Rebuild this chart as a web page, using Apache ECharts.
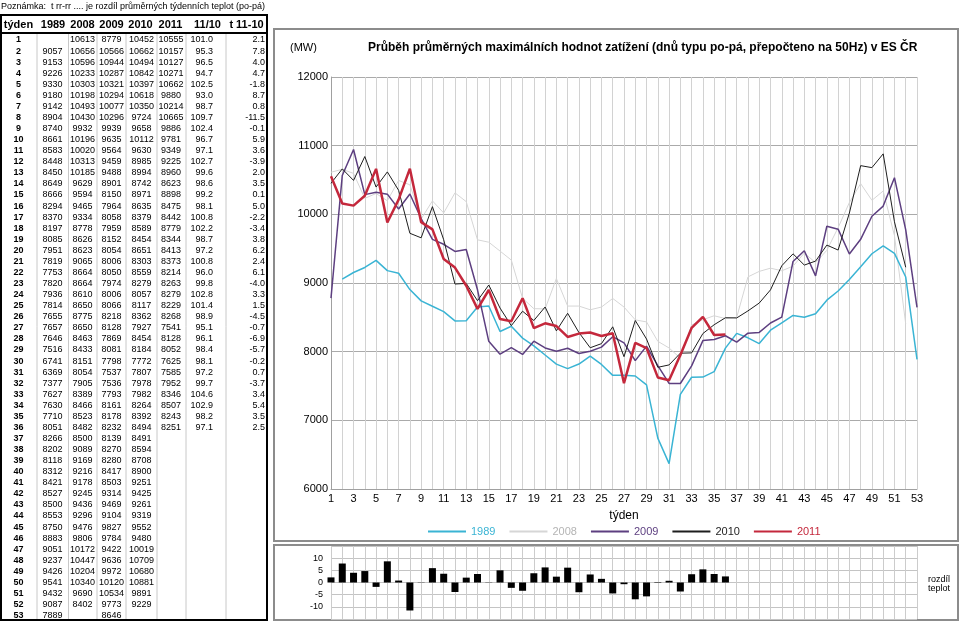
<!DOCTYPE html>
<html>
<head>
<meta charset="utf-8">
<script src="https://cdn.jsdelivr.net/npm/echarts@6/dist/echarts.min.js"></script>
<style>
html,body{margin:0;padding:0;background:#fff;}
#chart{width:960px;height:622px;}
</style>
</head>
<body>
<div id="chart"></div>
<script>
const weeks = ['1','2','3','4','5','6','7','8','9','10','11','12','13','14','15','16','17','18','19','20','21','22','23','24','25','26','27','28','29','30','31','32','33','34','35','36','37','38','39','40','41','42','43','44','45','46','47','48','49','50','51','52','53'];
const y1989 = [null,9057,9153,9226,9330,9180,9142,8904,8740,8661,8583,8448,8450,8649,8666,8294,8370,8197,8085,7951,7819,7753,7820,7936,7814,7655,7657,7646,7516,6741,6369,7377,7627,7630,7710,8051,8266,8202,8118,8312,8421,8527,8500,8553,8750,8883,9051,9237,9426,9541,9432,9087,7889];
const y2008 = [10613,10656,10596,10233,10303,10198,10493,10430,9932,10196,10020,10313,10185,9629,9594,9465,9334,8778,8626,8623,9065,8664,8664,8610,8650,8775,8650,8463,8433,8151,8054,7905,8389,8466,8523,8482,8500,9089,9169,9216,9178,9245,9436,9296,9476,9806,10172,10447,10204,10340,9690,8402,null];
const y2009 = [8779,10566,10944,10287,10321,10294,10077,10296,9939,9635,9564,9459,9488,8901,8150,7964,8058,7959,8152,8054,8006,8050,7974,8006,8066,8218,8128,7869,8081,7798,7537,7536,7793,8161,8178,8232,8139,8270,8280,8417,8503,9314,9469,9104,9827,9784,9422,9636,9972,10120,10534,9773,8646];
const y2010 = [10452,10662,10494,10842,10397,10618,10350,9724,9658,10112,9630,8985,8994,8742,8971,8635,8379,8589,8454,8651,8303,8559,8279,8057,8117,8362,7927,8454,8184,7772,7807,7978,7982,8264,8392,8494,8491,8594,8708,8900,9251,9425,9261,9319,9552,9480,10019,10709,10680,10881,9891,9229,null];
const y2011 = [10555,10157,10127,10271,10662,9880,10214,10665,9886,9781,9349,9225,8960,8623,8898,8475,8442,8779,8344,8413,8373,8214,8263,8279,8229,8268,7541,8128,8052,7625,7585,7952,8346,8507,8243,8251];
const ratio1110 = [101.0,95.3,96.5,94.7,102.5,93.0,98.7,109.7,102.4,96.7,97.1,102.7,99.6,98.6,99.2,98.1,100.8,102.2,98.7,97.2,100.8,96.0,99.8,102.8,101.4,98.9,95.1,96.1,98.4,98.1,97.2,99.7,104.6,102.9,98.2,97.1];
const tdiff = [2.1,7.8,4.0,4.7,-1.8,8.7,0.8,-11.5,-0.1,5.9,3.6,-3.9,2.0,3.5,0.1,5.0,-2.2,-3.4,3.8,6.2,2.4,6.1,-4.0,3.3,1.5,-4.5,-0.7,-6.9,-5.7,-0.2,0.7,-3.7,3.4,5.4,3.5,2.5];
const tableHeaders = ['týden','1989','2008','2009','2010','2011','11/10','t 11-10'];
const seriesNames = ['1989','2008','2009','2010','2011'];
const seriesColors = ['#3ab4d4','#d6d6d6','#5d3f80','#1e1e1e','#c4283c'];
const legendTextColors = ['#3ab4d4','#b4b4b4','#5d3f80','#1e1e1e','#c4283c'];
const seriesWidths = [1.5,1,1.5,1,2.5];

const FONT = 'Arial, "Liberation Sans", sans-serif';
const g = [];
function txt(x,y,s,font,align,color){
  g.push({type:'text',x:x,y:y,silent:true,style:{text:s,font:font,fill:color||'#000',textAlign:align,align:align,textVerticalAlign:'middle',verticalAlign:'middle'}});
}
function ln(x1,y1,x2,y2,c,w){
  g.push({type:'line',silent:true,shape:{x1:x1,y1:y1,x2:x2,y2:y2},style:{stroke:c,lineWidth:w}});
}
// note
txt(1,7,'Poznámka:  t rr-rr .... je rozdíl průměrných týdenních teplot (po-pá)','9px '+FONT,'left');
// table frame
const colDiv = [37,68.5,97,126,157,186,226];
colDiv.forEach(x=>ln(x,33,x,620,'#c8c8c8',1));
g.push({type:'rect',silent:true,shape:{x:1,y:15,width:266,height:605},style:{fill:'none',stroke:'#000',lineWidth:2}});
ln(1,33,267,33,'#000',2);
const headX = [18.5,53,82.5,111.5,140.5,170.5,207.5,246.5];
tableHeaders.forEach((h,i)=>txt(headX[i],25,h,'bold 11px '+FONT,'center'));
const cellX = [18.5,52.5,82.5,111.5,141.5,171,213,265];
const cols = [y1989,y2008,y2009,y2010,y2011];
for(let k=0;k<weeks.length;k++){
  const yy = 40 + k*11.07;
  txt(cellX[0],yy,weeks[k],'bold 9px '+FONT,'center');
  cols.forEach((arr,ci)=>{
    const v = arr[k];
    if(v!==null && v!==undefined) txt(cellX[ci+1],yy,String(v),'9px '+FONT,'center');
  });
  if(ratio1110[k]!==undefined) txt(cellX[6],yy,ratio1110[k].toFixed(1),'9px '+FONT,'right');
  if(tdiff[k]!==undefined) txt(cellX[7],yy,tdiff[k].toFixed(1),'9px '+FONT,'right');
}
// chart frames
g.push({type:'rect',silent:true,shape:{x:274,y:29,width:684,height:512},style:{fill:'none',stroke:'#8c8c8c',lineWidth:2}});
g.push({type:'rect',silent:true,shape:{x:274,y:545,width:684,height:75},style:{fill:'none',stroke:'#8c8c8c',lineWidth:2}});
txt(928,580,'rozdíl','9px '+FONT,'left');
txt(928,589,'teplot','9px '+FONT,'left');

const chart = echarts.init(document.getElementById('chart'),null,{renderer:'canvas'});
const lineSeries = seriesNames.map((n,i)=>({
  name:n,type:'line',xAxisIndex:0,yAxisIndex:0,
  data:[y1989,y2008,y2009,y2010,y2011][i],
  symbol:'none',showSymbol:false,connectNulls:false,
  lineStyle:{color:seriesColors[i],width:seriesWidths[i]},
  itemStyle:{color:seriesColors[i]},
  z:[3,2,4,5,6][i]
}));
chart.setOption({
  animation:false,
  textStyle:{fontFamily:FONT},
  title:[
    {text:'(MW)',left:285,top:37,textStyle:{fontSize:11,fontWeight:'normal',color:'#000',fontFamily:FONT}},
    {text:'Průběh průměrných maximálních hodnot zatížení (dnů typu po-pá, přepočteno na 50Hz) v ES ČR',left:363,top:37,textStyle:{fontSize:12,fontWeight:'bold',color:'#000',fontFamily:FONT}}
  ],
  legend:{
    left:423,top:521,itemWidth:38,itemHeight:2,itemGap:14,icon:'rect',
    textStyle:{fontSize:11,fontFamily:FONT},
    data:seriesNames.map((n,i)=>({name:n,icon:'rect',itemStyle:{color:seriesColors[i]},textStyle:{color:legendTextColors[i]}}))
  },
  grid:[
    {left:331,right:43,top:77,bottom:133},
    {left:331,right:43,top:546,bottom:3}
  ],
  xAxis:[
    {type:'category',gridIndex:0,data:weeks,boundaryGap:false,
     axisLine:{show:true,lineStyle:{color:'#a0a0a0'}},axisTick:{show:false},
     axisLabel:{interval:1,fontSize:11,color:'#000',margin:4},
     splitLine:{show:true,interval:0,lineStyle:{color:'#d2d2d2',width:1}},
     name:'týden',nameLocation:'middle',nameGap:21,nameTextStyle:{fontSize:12,color:'#000'}},
    {type:'category',gridIndex:1,data:weeks,boundaryGap:false,
     axisLine:{show:false},axisTick:{show:false},axisLabel:{show:false},
     splitLine:{show:true,interval:0,lineStyle:{color:'#cccccc',width:1}}}
  ],
  yAxis:[
    {type:'value',gridIndex:0,min:6000,max:12000,interval:1000,
     axisLine:{show:true,lineStyle:{color:'#a0a0a0'}},axisTick:{show:false},
     axisLabel:{fontSize:11,color:'#000',margin:3,formatter:v=>String(v)},
     splitLine:{show:true,lineStyle:{color:'#aaaaaa',width:1}}},
    {type:'value',gridIndex:1,min:-15,max:15,interval:5,
     axisLine:{show:false},axisTick:{show:false},
     axisLabel:{fontSize:9,color:'#000',margin:8,formatter:v=>(Math.abs(v)>=15?'':String(v))},
     splitLine:{show:true,lineStyle:{color:'#c4c4c4',width:1}}}
  ],
  series: lineSeries.concat([{
    name:'rozdíl teplot',type:'bar',xAxisIndex:1,yAxisIndex:1,data:tdiff,
    barWidth:7,itemStyle:{color:'#000'},legendHoverLink:false
  }]),
  graphic:{elements:g}
});
</script>
</body>
</html>
